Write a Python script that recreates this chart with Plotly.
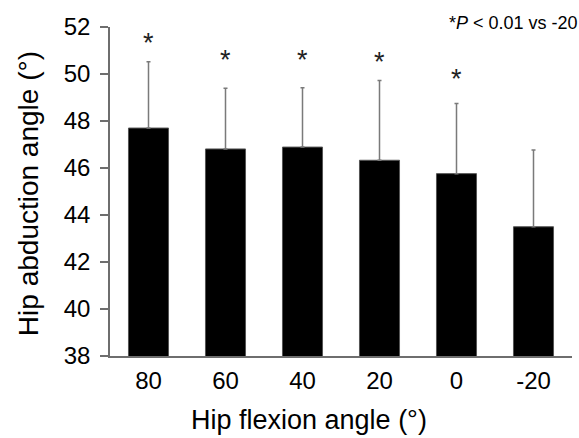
import plotly.graph_objects as go

categories = ["80", "60", "40", "20", "0", "-20"]
means = [47.70, 46.81, 46.89, 46.33, 45.76, 43.50]
sds = [2.82, 2.58, 2.53, 3.39, 2.98, 3.27]
sig_levels = [51.45, 50.72, 50.72, 50.64, 49.93, None]
y_ticks = [38, 40, 42, 44, 46, 48, 50, 52]

FONT = "Liberation Sans, Arial, Helvetica, sans-serif"
AX = "#6e6e6e"

fig = go.Figure()
fig.add_trace(go.Bar(
    x=categories, y=means, width=0.52,
    marker=dict(color="black", line=dict(color="#555555", width=1)),
    error_y=dict(type="data", array=sds, arrayminus=[0]*len(sds), symmetric=False,
                 color="#7a7a7a", thickness=1.5, width=2),
    hoverinfo="skip",
))

for i, lvl in enumerate(sig_levels):
    if lvl is None:
        continue
    fig.add_annotation(x=i, y=lvl, xref="x", yref="y", text="*", showarrow=False,
                       font=dict(family=FONT, size=27, color="#222"),
                       xanchor="center", yanchor="middle", yshift=-3)

fig.add_annotation(xref="paper", yref="paper", x=1.0, y=1.0, xanchor="right", yanchor="middle",
                   text="*<i>P</i> < 0.01 vs -20", showarrow=False,
                   font=dict(family=FONT, size=18, color="black"), xshift=8, yshift=4)

fig.add_annotation(xref="paper", yref="paper", x=0.431, y=0, xanchor="center", yanchor="middle",
                   text="Hip flexion angle (°)", showarrow=False,
                   font=dict(family=FONT, size=27, color="black"), yshift=-64)
fig.add_annotation(xref="paper", yref="paper", x=0, y=0.492, xanchor="center", yanchor="middle",
                   text="Hip abduction angle (°)", showarrow=False, textangle=-90,
                   font=dict(family=FONT, size=28, color="black"), xshift=-82)

fig.update_layout(
    width=579, height=438,
    margin=dict(l=110, r=7, t=27, b=82),
    paper_bgcolor="white", plot_bgcolor="white",
    showlegend=False,
    font=dict(family=FONT, color="black"),
)
fig.update_xaxes(
    type="category", range=[-0.5, 5.5], automargin=False,
    showline=True, linecolor=AX, linewidth=1.5,
    ticks="", tickfont=dict(size=24, family=FONT, color="black"),
    ticklabelstandoff=2,
    showgrid=False, zeroline=False,
)
fig.update_yaxes(
    range=[38, 52], tickvals=y_ticks, automargin=False,
    showline=True, linecolor=AX, linewidth=1.5,
    ticks="outside", ticklen=8, tickcolor=AX, tickwidth=1.5,
    tickfont=dict(size=24, family=FONT, color="black"),
    ticklabelstandoff=5,
    showgrid=False, zeroline=False,
)

fig.write_html("out.html", config={"displayModeBar": False},
               post_script="document.body.style.margin='0';document.body.style.overflow='hidden';")
